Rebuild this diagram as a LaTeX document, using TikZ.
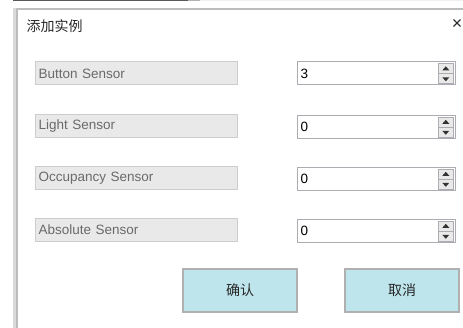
\documentclass[tikz,border=0pt]{standalone}
\usepackage{fontspec}
\usetikzlibrary{calc}
\setmainfont{Liberation Sans}
\newfontfamily\cjk{Noto Sans CJK SC}
\definecolor{lblgray}{HTML}{6A6A6A}
\definecolor{boxfill}{HTML}{E9E9E9}
\definecolor{boxborder}{HTML}{CDCDCD}
\definecolor{spinborder}{HTML}{ABADB3}
\definecolor{btnfill}{HTML}{BEE5EC}
\definecolor{btnborder}{HTML}{B0B0B0}
\definecolor{frame}{HTML}{BDBDBD}
\tikzset{
  lblbox/.style={draw=boxborder, fill=boxfill, line width=1pt, text width=196pt, inner xsep=3pt, inner ysep=0pt, minimum height=23pt, align=left, font=\fontsize{13.5}{15}\selectfont, text=lblgray, anchor=north west},
  spinbox/.style={draw=spinborder, fill=white, line width=1pt, text width=152pt, inner xsep=3pt, inner ysep=0pt, minimum height=23pt, align=left, font=\fontsize{13.5}{15}\selectfont, text=black, anchor=north west},
  spinbtn/.style={draw=spinborder, fill=boxfill, line width=0.6pt, minimum width=15pt, minimum height=10pt, inner sep=0pt, anchor=north west},
  btn/.style={draw=btnborder, line width=2pt, fill=btnfill, minimum width=114pt, minimum height=43pt, inner sep=0pt, font=\cjk\fontsize{14}{16}\selectfont, text=black!85, anchor=north west},
  tri/.style={fill=black!80}
}
\begin{document}
\begin{tikzpicture}[x=1pt,y=-1pt]
\useasboundingbox (0,0) rectangle (463,328);
% window frame
\fill[black!65] (13,0) rectangle (188,1.5);
\fill[black!30] (188,0) rectangle (200,1.5);
\fill[black!6] (200,0) rectangle (463,1.5);
\fill[frame] (13,8) rectangle (463,10.5);
\fill[black!15] (13,8) rectangle (16,328);
\fill[frame] (16,8) rectangle (18,328);
% title
\node[font=\cjk\fontsize{14}{16}\selectfont, text=black!85, anchor=west, inner sep=0pt] (title) at (26.5,26) {添加实例};
\node[font=\fontsize{18}{20}\selectfont, text=black!85, anchor=east, inner sep=0pt] (close) at (462.5,24.5) {×};
% labels
\node[lblbox] (l1) at (35,61.5) {Button Sensor};
\node[lblbox] (l2) at (35,114) {Light Sensor};
\node[lblbox] (l3) at (35,166) {Occupancy Sensor};
\node[lblbox] (l4) at (35,218) {Absolute Sensor};
% spin boxes
\foreach \y/\v/\n in {61.5/3/1,115/0/2,167/0/3,219/0/4}{
  \node[spinbox] (s\n) at (297,\y) {\v};
  \node[spinbtn] (su\n) at (438,\y+2) {};
  \node[spinbtn] (sd\n) at (438,\y+12) {};
  \fill[tri] ($(su\n.center)+(-3.5,1.5)$) -- ($(su\n.center)+(3.5,1.5)$) -- ($(su\n.center)+(0,-2.5)$) -- cycle;
  \fill[tri] ($(sd\n.center)+(-3.5,-1.5)$) -- ($(sd\n.center)+(3.5,-1.5)$) -- ($(sd\n.center)+(0,2.5)$) -- cycle;
}
% buttons
\node[btn] (ok) at (182,268) {确认};
\node[btn] (cancel) at (344,268) {取消};
\end{tikzpicture}
\end{document}
